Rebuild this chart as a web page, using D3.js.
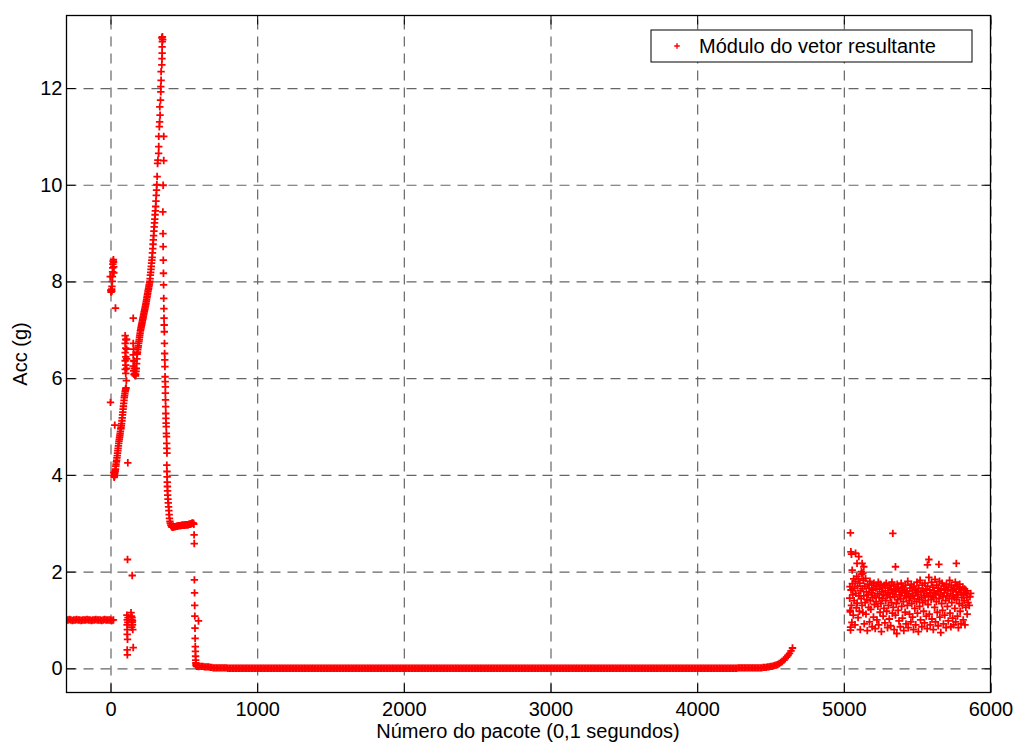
<!DOCTYPE html>
<html>
<head>
<meta charset="utf-8">
<script src="https://cdn.jsdelivr.net/npm/d3@7"></script>
<style>
body{margin:0;background:#fff;}
text{font-family:"Liberation Sans",Arial,Helvetica,sans-serif;}
</style>
</head>
<body>
<svg id="chart" width="1019" height="747"></svg>
<script>
// ---- data (packet number, acc in g) ----
var xTicks = [0, 1000, 2000, 3000, 4000, 5000, 6000];
var yTicks = [0, 2, 4, 6, 8, 10, 12];
var xLabel = "Número do pacote (0,1 segundos)";
var yLabel = "Acc (g)";
var legendLabel = "Módulo do vetor resultante";

// idle before the fall, one reading every 10 packets from -300
var idleStart = -300, idleStep = 10;
var idleAcc = [1.00,1.00,1.01,1.00,0.99,1.00,1.00,1.01,1.00,1.00,0.99,1.00,1.00,1.00,1.01,1.00,1.00,
	0.99,1.00,1.00,1.01,1.00,1.00,1.00,0.99,1.00,1.01,1.00,1.00,1.00,1.00,0.99,1.00];

// impact spike and first climb
var impactPts = [[-2,8.1],[2,7.82],[4,7.78],[6,7.8],[8,7.84],[9,7.8],[10,7.9],[12,8.0],[13,8.1],[14,8.2],
	[15,8.28],[16,8.36],[18,8.42],[20,8.45],[21,8.4],[22,8.3],[23,8.18],[0,5.5],[29,5.03],[34,7.45],[118,4.25],
	[22,4.05],[25,3.95],[27,3.97],[24,3.98],[26,4.0],[28,4.02],[30,4.05],[32,4.08],[34,4.12],[36,4.18],[38,4.22],
	[40,4.27],[42,4.3],[44,4.35],[46,4.4],[48,4.45],[50,4.5],[52,4.55],[54,4.6],[56,4.65],[58,4.7],[60,4.74],
	[62,4.78],[64,4.82],[66,4.86],[68,4.9],[70,4.95],[72,4.98],[74,5.02],[76,5.06],[78,5.12],[80,5.18],[82,5.24],
	[84,5.3],[86,5.36],[88,5.42],[90,5.48],[92,5.54],[94,5.6],[96,5.64],[98,5.68],[100,5.72],[102,5.75],[104,5.78],[106,5.8]];

// short stacks and the drop-out near 1 g
var glitchPts = [[100,6.88],[104,6.8],[100,6.72],[104,6.62],[100,6.53],[104,6.44],[100,6.36],[104,6.27],[100,6.18],
	[104,6.1],[108,5.95],[110,6.8],[110,6.6],[110,6.4],[110,6.2],[155,6.72],[157,6.6],[155,6.48],[157,6.36],
	[155,6.25],[158,6.15],[160,6.08],[155,7.24],
	[112,1.1],[114,1.0],[113,0.9],[115,0.8],[114,0.7],[116,0.6],[114,0.38],[115,0.28],[118,0.95],[120,1.05],
	[140,1.15],[143,1.08],[146,1.0],[148,0.95],[150,0.9],[145,0.85],[152,0.8],[147,1.05],[150,0.98],[155,0.43],
	[116,2.25],[148,1.92]];

// main climb to the peak
var climbPts = [[162,6.35],[164,6.2],[166,6.1],[168,6.06],[170,6.05],[172,6.08],[174,6.14],[176,6.2],[178,6.3],
	[180,6.4],[182,6.5],[184,6.54],[186,6.59],[188,6.63],[190,6.67],[192,6.72],[194,6.76],[196,6.8],[198,6.85],
	[200,6.89],[202,6.93],[204,6.98],[206,7.01],[208,7.04],[210,7.07],[212,7.1],[214,7.13],[216,7.16],[218,7.19],
	[220,7.22],[222,7.25],[224,7.28],[226,7.31],[228,7.34],[230,7.37],[232,7.4],[234,7.43],[236,7.46],[238,7.49],
	[240,7.52],[242,7.55],[244,7.59],[246,7.62],[248,7.66],[250,7.69],[252,7.73],[254,7.76],[256,7.8],[258,7.83],
	[260,7.86],[262,7.9],[264,7.93],[266,7.97],[268,8.0],[270,8.06],[272,8.13],[274,8.19],[276,8.25],[278,8.31],
	[280,8.38],[282,8.44],[284,8.5],[286,8.59],[288,8.68],[290,8.77],[292,8.86],[294,8.95],[296,9.04],[298,9.13],
	[300,9.21],[302,9.29],[304,9.38],[306,9.46],[308,9.55],[310,9.66],[312,9.78],[314,9.89],[316,10.0],
	[318,10.17],[321,10.44],[323,10.51],[328,10.65],[329,10.79],[329,11.0],[333,11.2],[335,11.3],[338,11.44],
	[336,11.61],[341,11.75],[343,11.92],[343,12.03],[345,12.16],[345,12.34],[350,12.48],[351,12.61],[352,12.72],
	[352,12.85],[353,12.96],[354,13.06],[356,13.0],[350,13.04],[363,10.5],[363,11.0],[359,9.99]];

// fall back down, plateau near 3 g, then drop to rest
var fallPts = [[357,9.44],[358,8.99],[359,8.72],[360,8.44],[361,8.17],[362,7.93],[363,7.65],[364,7.44],[365,7.24],
	[366,7.1],[367,6.96],[368,6.72],[369,6.51],[370,6.38],[371,6.24],[372,6.03],[373,5.93],[374,5.82],[374,5.69],
	[375,5.55],[376,5.41],[377,5.27],[378,5.17],[379,5.07],[380,5.0],[381,4.86],[382,4.79],[383,4.65],[384,4.55],
	[385,4.45],[384,4.2],[385,4.07],[386,3.96],[387,3.85],[388,3.76],[389,3.67],[390,3.58],[392,3.5],[394,3.42],
	[396,3.34],[398,3.26],[400,3.18],[402,3.1],[405,3.04],[408,3.0],[412,2.96],[416,2.93],[420,2.92],
	[425,2.92],[430,2.92],[435,2.93],[440,2.93],[445,2.93],[450,2.94],[455,2.94],[460,2.94],[465,2.95],[470,2.95],
	[475,2.95],[480,2.95],[485,2.96],[490,2.96],[495,2.96],[500,2.96],[505,2.96],[510,2.97],[515,2.97],[520,2.97],
	[525,2.97],[530,2.97],[535,2.98],[540,2.98],[545,2.98],[550,2.99],[555,3.0],[560,3.0],[565,3.0],[568,2.98],
	[570,2.76],[571,2.58],[572,1.83],[573,1.56],[574,1.3],[575,1.08],[600,0.98],[576,0.83],[577,0.62],[578,0.45],
	[579,0.35],[580,0.25],[581,0.17],[582,0.11],[583,0.07],[585,0.05],[588,0.04],[592,0.04],[596,0.04],[600,0.035]];

// lying still on the ground, one reading every 10 packets from 610
var restStart = 610, restStep = 10;
var restAcc = [0.04,0.04,0.04,0.03,0.03,0.03,0.03,0.02,0.02,
	0.01,0.01,0.01,0.01,0.01,0.01,0.01,0.01,0.01,0.01,0,0,0,0,0,0,0,0,0,0,
	0,0,0,0,0,0,0,0,0,0,0,0,0,0,0,0,0,0,0,0,
	0,0,0,0,0,0,0,0,0,0,0,0,0,0,0,0,0,0,0,0,
	0,0,0,0,0,0,0,0,0,0,0,0,0,0,0,0,0,0,0,0,
	0,0,0,0,0,0,0,0,0,0,0,0,0,0,0,0,0,0,0,0,
	0,0,0,0,0,0,0,0,0,0,0,0,0,0,0,0,0,0,0,0,
	0,0,0,0,0,0,0,0,0,0,0,0,0,0,0,0,0,0,0,0,
	0,0,0,0,0,0,0,0,0,0,0,0,0,0,0,0,0,0,0,0,
	0,0,0,0,0,0,0,0,0,0,0,0,0,0,0,0,0,0,0,0,
	0,0,0,0,0,0,0,0,0,0,0,0,0,0,0,0,0,0,0,0,
	0,0,0,0,0,0,0,0,0,0,0,0,0,0,0,0,0,0,0,0,
	0,0,0,0,0,0,0,0,0,0,0,0,0,0,0,0,0,0,0,0,
	0,0,0,0,0,0,0,0,0,0,0,0,0,0,0,0,0,0,0,0,
	0,0,0,0,0,0,0,0,0,0,0,0,0,0,0,0,0,0,0,0,
	0,0,0,0,0,0,0,0,0,0,0,0,0,0,0,0,0,0,0,0,
	0,0,0,0,0,0,0,0,0,0,0,0,0,0,0,0,0,0,0,0,
	0,0,0,0,0,0,0,0,0,0,0,0,0,0,0,0,0,0,0,0,
	0,0,0,0,0,0,0,0,0,0,0,0,0,0,0,0,0,0,0.01,0.01,
	0.01,0.01,0.01,0.01,0.01,0.01,0.01,0.01,0.01,0.01,
	0.01,0.01,0.01,0.01,0.01,0.02,0.02,0.02,0.03,0.03,0.04,0.04,0.05,0.06,0.07,0.08,0.10,0.12,
	0.14,0.17,0.20,0.23,0.27,0.31,0.36,0.42];

// recovery / movement after the gap, one reading every 3 packets from 5040
var moveStart = 5040, moveStep = 3;
var moveAcc = [
	1.45,1.20,0.85,1.62,1.30,0.95,1.75,1.52,1.10,1.85,1.40,1.66,0.90,1.80,1.55,1.25,1.90,1.35,1.70,1.05,
	1.85,1.50,1.18,1.76,0.80,1.60,1.44,1.95,1.30,1.65,1.15,1.82,1.50,0.92,1.70,1.36,1.86,1.12,1.58,1.42,
	0.78,1.74,1.52,1.26,1.66,0.96,1.80,1.40,1.22,1.56,1.72,0.86,1.46,1.62,1.06,1.76,1.32,1.50,0.82,1.66,
	1.38,1.70,1.00,1.54,1.28,1.78,0.90,1.46,1.64,1.16,1.74,1.34,0.76,1.58,1.44,1.68,1.08,1.52,1.24,1.72,
	0.94,1.60,1.40,1.76,1.18,1.50,0.84,1.66,1.30,1.56,1.02,1.72,1.46,0.88,1.62,1.36,1.78,1.14,1.54,1.26,
	1.70,0.80,1.48,1.64,1.10,1.58,1.34,0.72,1.74,1.42,1.20,1.66,0.98,1.52,1.60,0.86,1.44,1.76,1.28,1.56,
	1.04,1.68,1.38,0.78,1.62,1.50,1.16,1.72,0.92,1.46,1.58,1.30,1.80,0.84,1.54,1.40,1.12,1.66,1.48,0.96,
	1.74,1.34,1.60,1.06,1.50,0.80,1.70,1.44,1.24,1.62,0.90,1.56,1.38,1.78,1.14,1.52,0.76,1.66,1.42,1.28,
	1.82,1.00,1.58,1.46,0.86,1.72,1.36,1.60,1.18,1.50,0.94,1.76,1.40,1.64,1.08,1.54,0.82,1.70,1.32,1.48,
	1.88,1.12,1.62,0.90,1.56,1.42,1.78,1.02,1.50,1.68,0.80,1.46,1.60,1.26,1.84,0.96,1.54,1.38,1.72,1.16,
	1.58,0.88,1.66,1.44,1.80,1.06,1.52,0.74,1.62,1.34,1.76,1.20,1.48,0.92,1.70,1.56,1.10,1.64,1.40,0.84,
	1.74,1.50,1.28,1.60,0.98,1.68,1.44,1.82,1.14,1.54,0.86,1.72,1.36,1.62,1.04,1.50,0.90,1.66,1.46,1.24,
	1.78,0.96,1.58,1.42,1.70,1.08,1.52,0.84,1.64,1.34,1.74,1.18,1.56,0.92,1.62,1.46,1.30,1.68,1.00,1.52,
	1.40,1.64,0.90,1.56,1.26,1.60,1.46,1.12,1.54,1.36];
var moveOutliers = [[5045,2.8],[5048,2.41],[5052,2.36],[5080,2.38],[5090,2.17],[5102,2.31],[5125,2.17],[5136,2.1],
	[5057,2.03],[5120,2.0],[5130,1.97],[5042,1.69],[5044,1.17],[5046,0.79],[5334,2.79],[5352,2.1],[5580,2.25],
	[5570,2.14],[5648,2.15],[5767,2.17],[5855,1.3],[5860,1.48],[5865,1.55]];

// ---- build point list ----
function fromSeries(start, step, values){
	return values.map(function(v, i){ return [start + i*step, v]; });
}
var points = [].concat(
	fromSeries(idleStart, idleStep, idleAcc),
	impactPts, glitchPts, climbPts, fallPts,
	fromSeries(restStart, restStep, restAcc),
	fromSeries(moveStart, moveStep, moveAcc),
	moveOutliers
);

// ---- layout ----
var plotL = 66.5, plotR = 990.5, plotT = 15.5, plotB = 692.5;
var svg = d3.select("#chart");
var x = d3.scaleLinear().domain([-300, 6000]).range([plotL, plotR]);
var y = d3.scaleLinear().domain([-0.5, 13.5]).range([plotB, plotT]);
var fmt = d3.format("d");

// dashed grid
var gridX = svg.append("g").attr("transform", "translate(0," + plotB + ")")
	.call(d3.axisBottom(x).tickValues(xTicks).tickSize(-(plotB - plotT)).tickFormat(""));
var gridY = svg.append("g").attr("transform", "translate(" + plotL + ",0)")
	.call(d3.axisLeft(y).tickValues(yTicks).tickSize(-(plotR - plotL)).tickFormat(""));
[gridX, gridY].forEach(function(g){
	g.select(".domain").remove();
	g.selectAll("line").attr("stroke", "#666").attr("stroke-width", 1.2).attr("stroke-dasharray", "10,7");
});

// data markers
svg.append("clipPath").attr("id", "plotClip")
	.append("rect").attr("x", plotL).attr("y", plotT).attr("width", plotR - plotL).attr("height", plotB - plotT);
svg.append("g").attr("clip-path", "url(#plotClip)")
	.selectAll("path").data(points).enter().append("path")
	.attr("transform", function(d){ return "translate(" + x(d[0]) + "," + y(d[1]) + ")"; })
	.attr("d", "M-3.7,0H3.7M0,-3.7V3.7")
	.attr("stroke", "#ff0000").attr("stroke-width", 1.8).attr("fill", "none");

// axes with inward ticks
var axB = svg.append("g").attr("transform", "translate(0," + plotB + ")")
	.call(d3.axisBottom(x).tickValues(xTicks).tickFormat(fmt).tickSizeInner(-9).tickSizeOuter(0).tickPadding(9.5));
var axL = svg.append("g").attr("transform", "translate(" + plotL + ",0)")
	.call(d3.axisLeft(y).tickValues(yTicks).tickFormat(fmt).tickSizeInner(-9).tickSizeOuter(0).tickPadding(4));
var axT = svg.append("g").attr("transform", "translate(0," + plotT + ")")
	.call(d3.axisTop(x).tickValues(xTicks).tickSizeInner(-9).tickSizeOuter(0).tickFormat(""));
var axR = svg.append("g").attr("transform", "translate(" + plotR + ",0)")
	.call(d3.axisRight(y).tickValues(yTicks).tickSizeInner(-9).tickSizeOuter(0).tickFormat(""));
[axB, axL, axT, axR].forEach(function(g){
	g.select(".domain").remove();
	g.selectAll("line").attr("stroke", "#000").attr("stroke-width", 1);
	g.selectAll("text").attr("font-size", 20).attr("fill", "#000")
		.style("font-family", '"Liberation Sans",Arial,Helvetica,sans-serif');
});

// frame
svg.append("rect").attr("x", plotL).attr("y", plotT).attr("width", plotR - plotL).attr("height", plotB - plotT)
	.attr("fill", "none").attr("stroke", "#000").attr("stroke-width", 1.3);

// axis labels
svg.append("text").attr("x", 528).attr("y", 738).attr("text-anchor", "middle")
	.attr("font-size", 20).text(xLabel);
svg.append("text").attr("transform", "translate(27,354) rotate(-90)").attr("text-anchor", "middle")
	.attr("font-size", 20).text(yLabel);

// legend
var legend = svg.append("g");
legend.append("rect").attr("x", 651).attr("y", 30).attr("width", 321).attr("height", 32)
	.attr("fill", "#fff").attr("stroke", "#000").attr("stroke-width", 1);
legend.append("path").attr("transform", "translate(677,46)").attr("d", "M-2.8,0H2.8M0,-2.8V2.8")
	.attr("stroke", "#ff0000").attr("stroke-width", 1.4);
legend.append("text").attr("x", 699).attr("y", 53.3).attr("font-size", 20).text(legendLabel);
</script>
</body>
</html>
